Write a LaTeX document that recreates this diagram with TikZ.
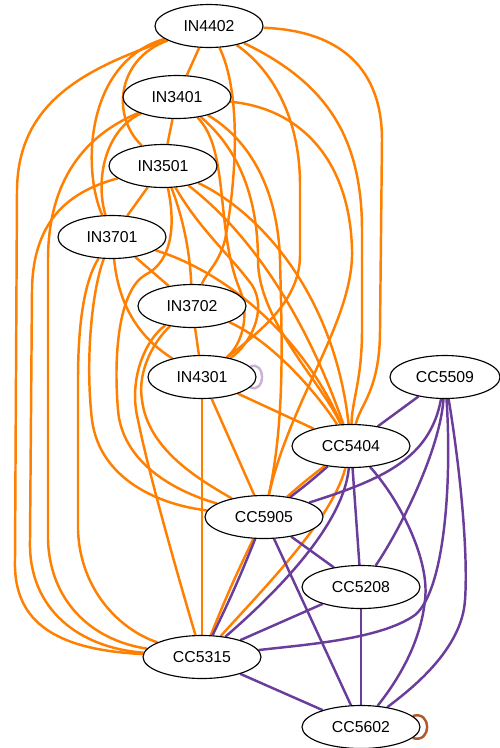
\documentclass[tikz,border=0pt]{standalone}
\usepackage{fontspec}
\setmainfont{Liberation Sans}
\usetikzlibrary{shapes.geometric,backgrounds}
\definecolor{edgeorange}{HTML}{FF7F00}
\definecolor{edgepurple}{HTML}{6A3D9A}
\definecolor{looplilac}{HTML}{CAB2D6}
\definecolor{loopbrown}{HTML}{B15928}
\tikzset{
  course/.style={ellipse, draw=black, line width=0.65pt, fill=white, minimum width=2.16cm,
    minimum height=0.86cm, inner sep=0pt, font=\fontsize{9}{11}\selectfont},
  ccourse/.style={course, minimum width=2.36cm},
  inlink/.style={draw=edgeorange, line width=1.4pt},
  cclink/.style={draw=edgepurple, line width=1.4pt},
}

\begin{document}
\begin{tikzpicture}[x=0.02cm, y=-0.02cm]
			%%%%% START %%%%%
			\useasboundingbox (0,0) rectangle (500,748);
			
			\node[course] (IN4402) at (209,26) {IN4402};
			\node[course] (IN3401) at (177,97) {IN3401};
			\node[course] (IN3501) at (163,166) {IN3501};
			\node[course] (IN3701) at (112,237) {IN3701};
			\node[course] (IN3702) at (192,306) {IN3702};
			\node[course] (IN4301) at (202,377) {IN4301};
			\node[course, minimum width=2.2cm] (CC5509) at (445,377) {CC5509};
			\node[ccourse] (CC5404) at (351,446) {CC5404};
			\node[ccourse] (CC5905) at (264,517) {CC5905};
			\node[ccourse] (CC5208) at (361,587) {CC5208};
			\node[ccourse] (CC5315) at (202,657) {CC5315};
			\node[ccourse] (CC5602) at (361,727) {CC5602};
			
			\begin{pgfonlayer}{background}
			% IN4402
			\draw[inlink] (IN4402) -- (IN3401);
			\draw[inlink] (IN4402) .. controls (80,70) and (18,105) .. (17,190) -- (15,560) .. controls (13,625) and (60,650) .. (CC5315);
			\draw[inlink] (IN4402) .. controls (85,62) and (82,170) .. (IN3701);
			\draw[inlink] (IN4402) .. controls (118,58) and (110,115) .. (IN3501);
			\draw[inlink] (IN4402) .. controls (270,68) and (300,115) .. (300,185) -- (300,255) .. controls (300,300) and (262,330) .. (IN4301);
			\draw[inlink] (IN4402) .. controls (240,90) and (238,170) .. (225,240) .. controls (218,265) and (208,270) .. (IN3702);
			\draw[inlink] (IN4402) .. controls (320,80) and (362,130) .. (362,230) -- (362,330) .. controls (362,380) and (352,400) .. (CC5404);
			\draw[inlink] (IN4402) .. controls (330,30) and (382,60) .. (382,140) -- (380,330) .. controls (380,390) and (360,405) .. (CC5404);
			
			% IN3401
			\draw[inlink] (IN3401) -- (IN3501);
			\draw[inlink] (IN3401) .. controls (105,130) and (95,180) .. (IN3701);
			\draw[inlink] (IN3401) .. controls (85,135) and (48,180) .. (48,260) -- (48,540) .. controls (50,600) and (90,640) .. (CC5315);
			\draw[inlink] (IN3401) .. controls (230,150) and (215,230) .. (240,290) .. controls (250,315) and (242,345) .. (IN4301);
			\draw[inlink] (IN3401) .. controls (240,150) and (258,200) .. (258,260) .. controls (258,320) and (320,380) .. (CC5404);
			\draw[inlink] (IN3401) .. controls (250,140) and (278,190) .. (280,260) .. controls (282,340) and (285,420) .. (CC5905);
			\draw[inlink] (IN3401) .. controls (300,108) and (350,160) .. (352,250) .. controls (354,320) and (290,400) .. (CC5905);
			
			% IN3501
			\draw[inlink] (IN3501) -- (IN3701);
			\draw[inlink] (IN3501) .. controls (75,190) and (33,215) .. (32,290) -- (30,540) .. controls (28,610) and (80,648) .. (CC5315);
			\draw[inlink] (IN3501) .. controls (176,225) and (172,262) .. (145,275) .. controls (120,290) and (113,350) .. (118,410) .. controls (122,460) and (170,490) .. (CC5905);
			\draw[inlink] (IN3501) .. controls (182,215) and (190,250) .. (IN3702);
			\draw[inlink] (IN3501) .. controls (200,230) and (230,255) .. (252,285) .. controls (268,310) and (250,345) .. (IN4301);
			\draw[inlink] (IN3501) .. controls (240,225) and (300,300) .. (CC5404);
			\draw[inlink] (IN3501) .. controls (265,215) and (335,300) .. (CC5404);
			
			% IN3701
			\draw[inlink] (IN3701) -- (IN3702);
			\draw[inlink] (IN3701) .. controls (118,300) and (135,335) .. (IN4301);
			\draw[inlink] (IN3701) .. controls (85,280) and (78,320) .. (78,380) -- (78,530) .. controls (80,590) and (120,630) .. (CC5315);
			\draw[inlink] (IN3701) .. controls (92,290) and (85,360) .. (92,420) .. controls (100,480) and (160,505) .. (CC5905);
			\draw[inlink] (IN3701) .. controls (220,270) and (300,330) .. (CC5404);
			
			% IN3702
			\draw[inlink] (IN3702) -- (IN4301);
			\draw[inlink] (IN3702) .. controls (270,340) and (315,390) .. (CC5404);
			\draw[inlink] (IN3702) .. controls (155,340) and (137,370) .. (142,400) .. controls (148,450) and (200,480) .. (CC5905);
			\draw[inlink] (IN3702) .. controls (145,340) and (128,380) .. (138,420) .. controls (150,480) and (185,600) .. (CC5315);
			
			% IN4301
			\draw[inlink] (IN4301) -- (CC5404);
			\draw[inlink] (IN4301) -- (CC5905);
			\draw[inlink] (IN4301) -- (CC5315);
			\draw[draw=looplilac, line width=1.4pt] (IN4301.12) .. controls (266,360) and (266,394) .. (IN4301.-12);
			
			% both kinds
			\draw[inlink] (CC5404) to[bend right=2] (CC5905);
			\draw[cclink] (CC5404) to[bend left=2] (CC5905);
			\draw[inlink] (CC5404) .. controls (332,520) and (262,590) .. (CC5315);
			\draw[cclink] (CC5404) .. controls (343,528) and (270,598) .. (CC5315);
			\draw[inlink] (CC5905) to[bend right=2] (CC5315);
			\draw[cclink] (CC5905) to[bend left=2] (CC5315);
			
			% CC
			\draw[cclink] (CC5509) -- (CC5404);
			\draw[cclink] (CC5509) .. controls (430,460) and (380,480) .. (CC5905);
			\draw[cclink] (CC5509) .. controls (440,450) and (400,530) .. (CC5208);
			\draw[cclink] (CC5509) .. controls (452,480) and (445,590) .. (415,615) .. controls (380,640) and (300,645) .. (CC5315);
			\draw[cclink] (CC5509) .. controls (462,480) and (468,560) .. (465,600) .. controls (462,650) and (410,690) .. (CC5602);
			\draw[cclink] (CC5404) -- (CC5208);
			\draw[cclink] (CC5404) .. controls (400,500) and (430,560) .. (425,600) .. controls (420,650) and (390,690) .. (CC5602);
			\draw[cclink] (CC5905) -- (CC5208);
			\draw[cclink] (CC5905) -- (CC5602);
			\draw[cclink] (CC5208) -- (CC5315);
			\draw[cclink] (CC5208) -- (CC5602);
			\draw[cclink] (CC5315) -- (CC5602);
			\draw[draw=loopbrown, line width=1.4pt] (CC5602.12) .. controls (432,710) and (432,744) .. (CC5602.-12);
			\end{pgfonlayer}
			
			%%%%% END %%%%%
\end{tikzpicture}
\end{document}
